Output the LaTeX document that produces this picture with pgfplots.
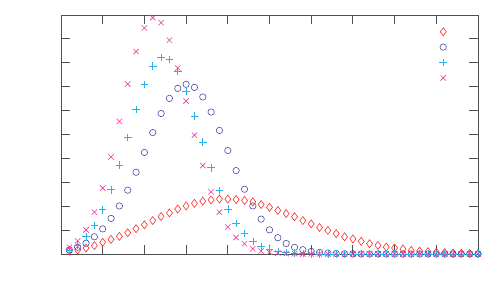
\documentclass[border=0pt]{standalone}
\usepackage{pgfplots}
\usepackage{pgfplotstable}
\pgfplotsset{compat=1.18}
\definecolor{cred}{HTML}{FF2A2A}
\definecolor{cblue}{HTML}{4848A8}
\definecolor{ccyan}{HTML}{22B2EE}
\definecolor{cmag}{HTML}{F0349A}
\definecolor{frame}{HTML}{505050}
\pgfplotstableread{
k red blue cyan mag
1 0.12 0.17 0.15 0.28
2 0.17 0.28 0.38 0.55
3 0.25 0.45 0.72 1.01
4 0.35 0.72 1.19 1.75
5 0.49 1.05 1.85 2.76
6 0.61 1.49 2.69 4.06
7 0.74 2.01 3.72 5.55
8 0.89 2.67 4.88 7.11
9 1.06 3.42 6.05 8.47
10 1.22 4.25 7.10 9.46
11 1.40 5.08 7.86 9.89
12 1.57 5.88 8.22 9.68
13 1.72 6.51 8.14 8.95
14 1.88 6.93 7.65 7.78
15 2.01 7.10 6.82 6.40
16 2.12 6.97 5.78 4.97
17 2.21 6.57 4.68 3.70
18 2.26 5.94 3.61 2.60
19 2.30 5.17 2.65 1.75
20 2.30 4.33 1.89 1.13
21 2.28 3.49 1.28 0.69
22 2.24 2.71 0.85 0.43
23 2.18 2.01 0.53 0.22
24 2.07 1.46 0.32 0.12
25 1.95 1.01 0.19 0.07
26 1.82 0.68 0.11 0.04
27 1.69 0.44 0.06 0.02
28 1.56 0.28 0.03 0.01
29 1.40 0.18 0.02 0.00
30 1.26 0.11 0.01 0.00
31 1.11 0.07 0.00 0.00
32 0.99 0.04 0.00 0.00
33 0.85 0.02 0.00 0.00
34 0.72 0.01 0.00 0.00
35 0.63 0.01 0.00 0.00
36 0.53 0.00 0.00 0.00
37 0.43 0.00 0.00 0.00
38 0.36 0.00 0.00 0.00
39 0.29 0.00 0.00 0.00
40 0.25 0.00 0.00 0.00
41 0.21 0.00 0.00 0.00
42 0.15 0.00 0.00 0.00
43 0.12 0.00 0.00 0.00
44 0.10 0.00 0.00 0.00
45 0.07 0.00 0.00 0.00
46 0.06 0.00 0.00 0.00
47 0.04 0.00 0.00 0.00
48 0.03 0.00 0.00 0.00
49 0.02 0.00 0.00 0.00
50 0.02 0.00 0.00 0.00
}\datatable
\begin{document}
\begin{tikzpicture}
\begin{axis}[
  at={(0,0)}, anchor=south west,
  scale only axis, width=417bp, height=239bp,
  xmin=0, xmax=50, ymin=0, ymax=10,
  xtick={0,5,...,50}, ytick={0,1,...,10},
  xticklabels={}, yticklabels={},
  tick align=inside, major tick length=9bp,
  axis line style={frame, line width=0.8pt},
  tick style={frame, line width=0.8pt},
  clip=false,
  legend style={at={(rel axis cs:0.907,0.963)}, anchor=north west, draw=none, fill=none,
    inner sep=0pt, row sep=0pt, nodes={inner sep=0pt, minimum height=15.4bp}},
  legend cell align=left,
]
\addplot[only marks, mark=diamond, mark size=4bp, cred, line width=0.6pt] table[x=k, y=red] {\datatable};
\addlegendentry{}
\addplot[only marks, mark=o, mark size=3.2bp, cblue, line width=0.6pt] table[x=k, y=blue] {\datatable};
\addlegendentry{}
\addplot[only marks, mark=+, mark size=3.8bp, ccyan, line width=0.6pt] table[x=k, y=cyan] {\datatable};
\addlegendentry{}
\addplot[only marks, mark=x, mark size=3.8bp, cmag, line width=0.6pt] table[x=k, y=mag] {\datatable};
\addlegendentry{}
\end{axis}
\pgfresetboundingbox
\path[use as bounding box] (-61bp,-46bp) rectangle (439bp,254bp);
\end{tikzpicture}
\end{document}
